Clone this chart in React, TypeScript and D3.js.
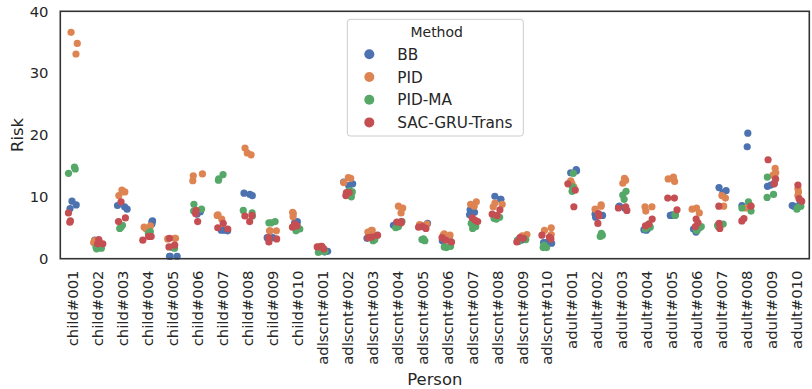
import React from "react";
import * as d3 from "d3";

const categories = [
  "child#001", "child#002", "child#003", "child#004", "child#005",
  "child#006", "child#007", "child#008", "child#009", "child#010",
  "adlscnt#001", "adlscnt#002", "adlscnt#003", "adlscnt#004", "adlscnt#005",
  "adlscnt#006", "adlscnt#007", "adlscnt#008", "adlscnt#009", "adlscnt#010",
  "adult#001", "adult#002", "adult#003", "adult#004", "adult#005",
  "adult#006", "adult#007", "adult#008", "adult#009", "adult#010",
];

const methods = ["BB", "PID", "PID-MA", "SAC-GRU-Trans"];
const colors = ["#4C72B0", "#DD8452", "#55A868", "#C44E52"];

const bbValues = [
  [9.3, 8.7, 8.1], [2.9, 2.5, 3.0], [8.0, 8.4, 8.6], [6.1, 6.0, 5.6], [0.4, 0.4, 0.4],
  [7.2, 7.3, 7.6], [4.6, 4.6, 4.5], [10.6, 10.4, 10.2], [3.4, 3.4, 3.3], [5.8, 5.6, 6.0],
  [1.1, 1.3, 1.2], [12.1, 11.8, 12.4], [3.4, 3.6, 3.3], [5.4, 5.6, 5.8], [5.7, 5.3, 5.4],
  [3.0, 2.9, 3.2], [7.9, 7.5, 7.1], [9.6, 9.6, 10.1], [3.4, 3.2, 3.0], [2.6, 2.6, 2.5],
  [14.2, 14.4, 13.9], [7.2, 6.7, 7.0], [8.4, 8.5, 8.2], [4.6, 4.7, 4.9], [7.0, 7.0, 7.1],
  [4.3, 5.0, 4.8], [11.5, 10.7, 11.0], [20.3, 18.1, 8.6], [11.7, 12.2, 11.9], [8.6, 8.7, 8.5],
];

const pidValues = [
  [34.8, 33.1, 36.6], [2.9, 2.9, 2.6], [11.1, 10.8, 10.2], [5.1, 5.3, 4.8], [3.3, 3.3, 3.2],
  [13.7, 13.4, 12.6], [7.0, 7.1, 6.4], [17.9, 17.1, 16.8], [4.5, 4.5, 4.5], [7.5, 7.3, 6.8],
  [1.9, 1.8, 2.0], [13.1, 13.0, 12.3], [4.3, 4.6, 4.6], [8.5, 7.4, 8.2], [5.6, 5.2, 5.5],
  [4.0, 3.8, 3.8], [9.2, 8.8, 8.5], [8.8, 8.4, 9.0], [3.9, 3.5, 3.7], [4.6, 5.0, 3.9],
  [12.6, 12.2, 11.6], [8.7, 8.5, 8.0], [12.2, 12.7, 13.0], [8.4, 7.7, 8.4], [12.5, 13.2, 12.9],
  [8.2, 7.4, 8.0], [9.8, 10.2, 8.5], [8.8, 8.2, 8.5], [14.6, 13.9, 13.5], [11.3, 10.8, 10.2],
];

const pidMaValues = [
  [14.5, 14.8, 13.8], [1.8, 1.7, 1.6], [5.4, 5.1, 4.9], [4.4, 3.6, 4.1], [1.9, 1.7, 1.8],
  [8.0, 8.8, 7.7], [13.6, 12.7, 12.9], [7.8, 6.9, 7.4], [5.8, 5.8, 6.0], [4.8, 4.5, 5.0],
  [1.0, 1.1, 1.2], [10.0, 11.0, 10.8], [2.9, 3.1, 3.3], [5.0, 5.2, 6.0], [3.2, 3.1, 2.9],
  [1.8, 2.0, 1.9], [5.7, 5.2, 4.9], [6.4, 6.5, 6.7], [3.1, 3.0, 2.8], [1.8, 1.8, 2.2],
  [13.8, 11.6, 10.9], [3.6, 3.8, 4.1], [10.9, 10.3, 9.6], [5.1, 5.6, 4.8], [7.0, 7.1, 7.1],
  [5.2, 4.6, 4.6], [5.6, 5.2, 5.4], [9.2, 7.7, 8.2], [13.2, 10.4, 9.9], [8.3, 8.5, 8.0],
];

const sacValues = [
  [7.4, 6.1, 5.9], [3.1, 2.4, 2.4], [9.2, 6.0, 6.6], [3.6, 3.0, 3.6], [3.3, 2.2, 1.9],
  [7.8, 6.0, 7.3], [5.7, 5.0, 4.8], [7.0, 6.9, 6.0], [3.4, 2.7, 3.2], [5.3, 5.1, 5.6],
  [1.9, 2.0, 1.6], [10.7, 10.7, 10.2], [3.8, 3.4, 3.5], [6.0, 5.8, 5.9], [5.2, 5.1, 4.9],
  [3.4, 3.0, 2.7], [6.0, 6.2, 6.6], [7.9, 7.2, 7.0], [3.3, 2.7, 3.4], [3.8, 3.5, 3.2],
  [11.1, 12.1, 8.4], [7.3, 5.7, 6.9], [8.4, 8.2, 7.8], [6.4, 5.6, 5.3], [9.8, 9.8, 7.9],
  [6.4, 5.8, 5.2], [8.5, 5.7, 4.9], [8.5, 6.5, 6.1], [16.0, 12.9, 12.1], [11.9, 9.7, 9.3],
];

const seriesValues = [bbValues, pidValues, pidMaValues, sacValues];
const yTicks = [0, 10, 20, 30, 40];

const W = 812;
const H = 389;
const M = { left: 60.3, right: 809.3, top: 11.3, bottom: 258.7 };
const FONT = "DejaVu Sans, sans-serif";
const TXT = "#262626";

export default function App() {
  const x = d3.scaleBand<string>().domain(categories).range([M.left, M.right]).padding(0);
  const y = d3.scaleLinear().domain([0, 40]).range([M.bottom, M.top]);
  const bw = x.bandwidth();
  const rng = d3.randomUniform.source(d3.randomLcg(0.4217))(-0.22, 0.22);

  const points: { cx: number; cy: number; color: string; key: string }[] = [];
  seriesValues.forEach((series, mi) => {
    series.forEach((vals, ci) => {
      vals.forEach((v, k) => {
        const cx = (x(categories[ci]) as number) + bw / 2 + rng() * bw;
        points.push({ cx, cy: y(v), color: colors[mi], key: `${mi}-${ci}-${k}` });
      });
    });
  });

  const legend = { x: 347.3, y: 19.3, w: 176, h: 116.7 };

  return (
    <svg
      width={W}
      height={H}
      style={{ position: "absolute", left: 0, top: 0, fontFamily: FONT }}
    >
      <rect x={0} y={0} width={W} height={H} fill="#fff" />
      {points.map((p) => (
        <circle key={p.key} cx={p.cx} cy={p.cy} r={3.6} fill={p.color} />
      ))}
      <rect
        x={M.left}
        y={M.top}
        width={M.right - M.left}
        height={M.bottom - M.top}
        fill="none"
        stroke="#333"
        strokeWidth={1.6}
      />
      {yTicks.map((t) => (
        <text
          key={t}
          x={48.5}
          y={y(t)}
          dy="0.36em"
          textAnchor="end"
          fontSize={14.8}
          fill={TXT}
        >
          {t}
        </text>
      ))}
      {categories.map((c) => {
        const cx = (x(c) as number) + bw / 2;
        return (
          <text
            key={c}
            transform={`translate(${cx},270.5) rotate(-90)`}
            dy="0.36em"
            textAnchor="end"
            fontSize={14.8}
            fill={TXT}
          >
            {c}
          </text>
        );
      })}
      <text
        transform={`translate(22.7,${(M.top + M.bottom) / 2}) rotate(-90)`}
        textAnchor="middle"
        fontSize={16.4}
        fill={TXT}
      >
        Risk
      </text>
      <text
        x={(M.left + M.right) / 2}
        y={385}
        textAnchor="middle"
        fontSize={16.4}
        fill={TXT}
      >
        Person
      </text>
      <g>
        <rect
          x={legend.x}
          y={legend.y}
          width={legend.w}
          height={legend.h}
          rx={3}
          fill="#fff"
          fillOpacity={0.8}
          stroke="#cccccc"
          strokeWidth={1}
        />
        <text x={436.7} y={36.5} textAnchor="middle" fontSize={14} fill={TXT}>
          Method
        </text>
        {methods.map((m, i) => {
          const cy = 54.3 + i * 22.7;
          return (
            <g key={m}>
              <circle cx={369.3} cy={cy} r={5} fill={colors[i]} />
              <text x={397.3} y={cy} dy="0.36em" fontSize={15.3} fill={TXT}>
                {m}
              </text>
            </g>
          );
        })}
      </g>
    </svg>
  );
}
